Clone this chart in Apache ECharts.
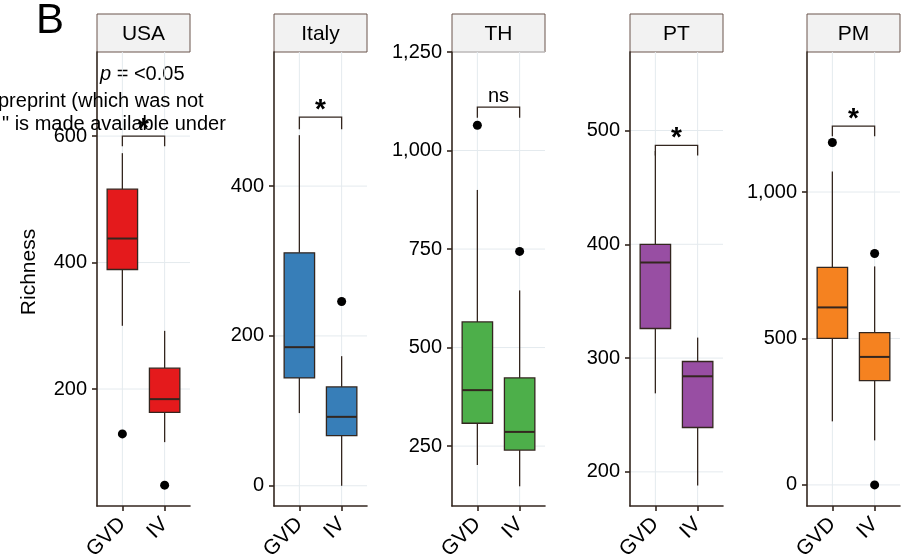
<!DOCTYPE html>
<html>
<head>
<meta charset="utf-8">
<script src="https://cdn.jsdelivr.net/npm/echarts@6.0.0/dist/echarts.min.js"></script>
<style>
  html, body { margin: 0; padding: 0; background: #fff; }
  #main { width: 909px; height: 555px; }
</style>
</head>
<body>
<div id="main"></div>
<script>
// data
var panels = ['USA', 'Italy', 'TH', 'PT', 'PM'];
var groups = ['GVD', 'IV'];
var colors = ['#e41a1c', '#377eb8', '#4daf4a', '#984ea3', '#f58220'];

// [min, Q1, median, Q3, max] for GVD then IV
var usaBox = [[300, 389, 438, 516, 573], [116, 163, 184, 233, 292]];
var italyBox = [[97, 144, 185, 311, 468], [0, 67, 92, 132, 173]];
var thBox = [[202, 308, 392, 565, 900], [148, 240, 286, 423, 645]];
var ptBox = [[269, 326, 384, 400, 482], [188, 239, 284, 297, 318]];
var pmBox = [[217, 500, 606, 743, 1070], [152, 356, 437, 520, 746]];

// outliers: [group position, value]
var usaOut = [[1, 129], [2, 48]];
var italyOut = [[2, 246]];
var thOut = [[1, 1064], [2, 744]];
var ptOut = [];
var pmOut = [[1, 1169], [2, 790], [2, 0]];

var yMin = [15, -27, 98, 170, -72];
var yMax = [733, 579, 1250, 569, 1478];
var yTicks = [[200, 400, 600], [0, 200, 400], [250, 500, 750, 1000, 1250], [200, 300, 400, 500], [0, 500, 1000]];

var bracketTop = [600, 492, 1110, 487, 1225];
var bracketEnd = [584, 476, 1083, 478, 1190];
var signif = ['*', '*', 'ns', '*', '*'];

var boxes = [usaBox, italyBox, thBox, ptBox, pmBox];
var outliers = [usaOut, italyOut, thOut, ptOut, pmOut];

var myChart = echarts.init(document.getElementById('main'));

var FONT = '"Liberation Sans", Arial, sans-serif';
var axisCol = '#33261f';
var gridCol = '#e4eaee';
var lefts = [97, 274, 452, 630, 807];
var panelW = 93;
var xPos = [1, 2];

var grids = [], xAxes = [], yAxes = [], series = [], graphics = [];

function boxRenderer(color) {
    return function (params, api) {
        var x = api.value(0);
        var pMin = api.coord([x, api.value(1)]);
        var pQ1 = api.coord([x, api.value(2)]);
        var pMed = api.coord([x, api.value(3)]);
        var pQ3 = api.coord([x, api.value(4)]);
        var pMax = api.coord([x, api.value(5)]);
        var half = api.size([0.72, 0])[0] / 2;
        var cx = pMed[0];
        var line = { stroke: axisCol, lineWidth: 1.3 };
        return {
            type: 'group',
            children: [
                { type: 'line', shape: { x1: cx, y1: pMax[1], x2: cx, y2: pQ3[1] }, style: line },
                { type: 'line', shape: { x1: cx, y1: pQ1[1], x2: cx, y2: pMin[1] }, style: line },
                { type: 'rect', shape: { x: cx - half, y: pQ3[1], width: half * 2, height: pQ1[1] - pQ3[1] },
                  style: { fill: color, stroke: axisCol, lineWidth: 1.3 } },
                { type: 'line', shape: { x1: cx - half, y1: pMed[1], x2: cx + half, y2: pMed[1] },
                  style: { stroke: axisCol, lineWidth: 2 } }
            ]
        };
    };
}

function bracketRenderer(label) {
    return function (params, api) {
        var top = api.value(1), end = api.value(2);
        var a = api.coord([1, end]), b = api.coord([1, top]);
        var c = api.coord([2, top]), d = api.coord([2, end]);
        var isStar = label === '*';
        return {
            type: 'group',
            children: [
                { type: 'polyline', shape: { points: [a, b, c, d] },
                  style: { stroke: axisCol, lineWidth: 1.3, fill: 'none' } },
                { type: 'text', x: (b[0] + c[0]) / 2, y: isStar ? b[1] + 7 : b[1] - 1,
                  style: { text: label, font: (isStar ? 'bold 28px ' : '20px ') + FONT,
                           fill: '#000', align: 'center', verticalAlign: 'bottom' } }
            ]
        };
    };
}

for (var i = 0; i < panels.length; i++) {
    grids.push({ left: lefts[i], top: 52, width: panelW, height: 454, outerBoundsMode: 'none', containLabel: false });
    xAxes.push({
        gridIndex: i, type: 'value', min: 0.4, max: 2.6,
        axisLine: { onZero: false, lineStyle: { color: axisCol, width: 1.6 } },
        axisTick: { show: true, customValues: xPos, length: 5, lineStyle: { color: axisCol, width: 1.6 } },
        axisLabel: {
            customValues: xPos, rotate: 45, fontSize: 21, fontFamily: FONT, color: '#000', margin: 15,
            formatter: function (v) { return groups[Math.round(v) - 1]; }
        },
        splitLine: { show: false }
    });
    yAxes.push({
        gridIndex: i, type: 'value', min: yMin[i], max: yMax[i],
        axisLine: { show: true, onZero: false, lineStyle: { color: axisCol, width: 1.6 } },
        axisTick: { show: true, length: 5, customValues: yTicks[i], lineStyle: { color: axisCol, width: 1.6 } },
        axisLabel: {
            customValues: yTicks[i], fontSize: 20, fontFamily: FONT, color: '#000', margin: 10,
            formatter: function (v) { return Number(v).toLocaleString('en-US'); }
        },
        splitLine: { show: false }
    });

    // background grid lines
    series.push({
        type: 'custom', xAxisIndex: i, yAxisIndex: i, z: 0, silent: true,
        data: yTicks[i].map(function (v) { return [1, v]; }),
        renderItem: function (params, api) {
            var cs = params.coordSys;
            var y = api.coord([1, api.value(1)])[1];
            return { type: 'line', shape: { x1: cs.x, y1: y, x2: cs.x + cs.width, y2: y },
                     style: { stroke: gridCol, lineWidth: 1 } };
        }
    });
    series.push({
        type: 'custom', xAxisIndex: i, yAxisIndex: i, z: 0, silent: true,
        data: xPos.map(function (p) { return [p, yMin[i]]; }),
        renderItem: function (params, api) {
            var cs = params.coordSys;
            var x = api.coord([api.value(0), api.value(1)])[0];
            return { type: 'line', shape: { x1: x, y1: cs.y, x2: x, y2: cs.y + cs.height },
                     style: { stroke: gridCol, lineWidth: 1 } };
        }
    });

    series.push({
        type: 'custom', xAxisIndex: i, yAxisIndex: i, z: 2,
        data: boxes[i].map(function (b, k) { return [xPos[k]].concat(b); }),
        encode: { x: 0, y: [1, 2, 3, 4, 5] },
        renderItem: boxRenderer(colors[i])
    });
    series.push({
        type: 'scatter', xAxisIndex: i, yAxisIndex: i, z: 3,
        data: outliers[i], symbolSize: 9,
        itemStyle: { color: '#000', opacity: 1 }
    });
    series.push({
        type: 'custom', xAxisIndex: i, yAxisIndex: i, z: 3,
        data: [[1, bracketTop[i], bracketEnd[i]]],
        renderItem: bracketRenderer(signif[i])
    });

    graphics.push({
        type: 'rect', shape: { x: lefts[i], y: 14, width: panelW, height: 38 },
        style: { fill: '#f2f2f2', stroke: '#6a544c', lineWidth: 1 }
    });
    graphics.push({
        type: 'text', x: lefts[i] + panelW / 2, y: 34,
        style: { text: panels[i], font: '21px ' + FONT, fill: '#000', align: 'center', verticalAlign: 'middle' }
    });
}

graphics.push({
    type: 'text', x: 36, y: 21,
    style: { text: 'B', font: '42px ' + FONT, fill: '#000', verticalAlign: 'middle' }
});
graphics.push({
    type: 'text', x: 29, y: 272, rotation: Math.PI / 2,
    style: { text: 'Richness', font: '21px ' + FONT, fill: '#000', align: 'center', verticalAlign: 'middle' }
});
graphics.push({
    type: 'text', x: 100, y: 74,
    style: {
        text: '{i|p} = <0.05',
        font: '20px ' + FONT, fill: '#000', verticalAlign: 'middle',
        rich: { i: { fontStyle: 'italic', fontSize: 20, fontFamily: FONT } }
    }
});
graphics.push({
    type: 'text', x: -2, y: 101, z: 10,
    style: { text: 'preprint (which was not', font: '20px ' + FONT, fill: '#000', verticalAlign: 'middle' }
});
graphics.push({
    type: 'text', x: 2, y: 124, z: 10,
    style: { text: '" is made available under', font: '20px ' + FONT, fill: '#000', verticalAlign: 'middle' }
});

option = {
    backgroundColor: '#fff',
    animation: false,
    grid: grids,
    xAxis: xAxes,
    yAxis: yAxes,
    series: series,
    graphic: graphics
};

if (option && typeof option === "object") {
    myChart.setOption(option, true);
}
</script>
</body>
</html>
